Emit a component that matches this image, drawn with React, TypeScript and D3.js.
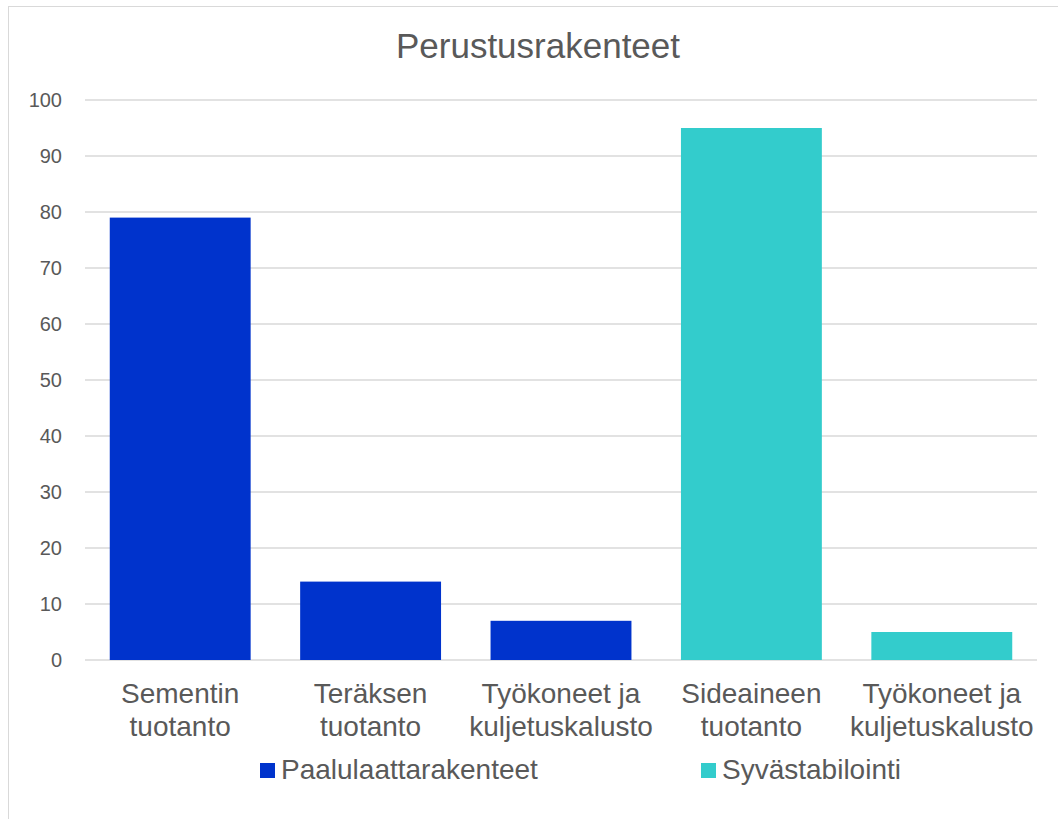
import React from "react";
import * as d3 from "d3";

const categories = [
  ["Sementin", "tuotanto"],
  ["Teräksen", "tuotanto"],
  ["Työkoneet ja", "kuljetuskalusto"],
  ["Sideaineen", "tuotanto"],
  ["Työkoneet ja", "kuljetuskalusto"],
];
const values = [79, 14, 7, 95, 5];
const seriesOf = [0, 0, 0, 1, 1];
const seriesNames = ["Paalulaattarakenteet", "Syvästabilointi"];
const seriesColors = ["#0033CC", "#33CCCC"];
const yTicks = [0, 10, 20, 30, 40, 50, 60, 70, 80, 90, 100];
const title = "Perustusrakenteet";

export default function App() {
  const W = 1058, H = 819;
  const left = 85, right = 1037, top = 100, bottom = 660;
  const x = d3.scaleBand<number>().domain(d3.range(values.length)).range([left, right]).paddingInner(0.26).paddingOuter(0.13);
  const y = d3.scaleLinear().domain([0, 100]).range([bottom, top]);
  const font = "'Liberation Sans', Arial, sans-serif";
  const textColor = "#595959";
  return (
    <svg width={W} height={H} style={{ position: "absolute", left: 0, top: 0 }} fontFamily={font}>
      <rect x={0} y={0} width={W} height={H} fill="#fff" />
      <rect x={8.5} y={6.5} width={W + 10} height={H + 10} fill="none" stroke="#D9D9D9" strokeWidth={1} />
      <text x={538} y={58} textAnchor="middle" fontSize={35} fill={textColor}>{title}</text>
      {yTicks.map((t) => (
        <g key={t}>
          <line x1={left} x2={right} y1={y(t)} y2={y(t)} stroke="#D9D9D9" strokeWidth={1.3} />
          <text x={62} y={y(t) + 7} textAnchor="end" fontSize={20} fill={textColor}>{t}</text>
        </g>
      ))}
      {values.map((v, i) => (
        <rect key={i} x={x(i)} y={y(v)} width={x.bandwidth()} height={y(0) - y(v)} fill={seriesColors[seriesOf[i]]} />
      ))}
      {categories.map((lines, i) => (
        <text key={i} textAnchor="middle" fontSize={28} fill={textColor}>
          {lines.map((l, j) => (
            <tspan key={j} x={(x(i) as number) + x.bandwidth() / 2} y={703 + j * 33}>{l}</tspan>
          ))}
        </text>
      ))}
      {seriesNames.map((s, i) => {
        const lx = [260, 701][i];
        return (
          <g key={s}>
            <rect x={lx} y={763} width={15} height={15} fill={seriesColors[i]} />
            <text x={lx + 21} y={779} fontSize={28} fill={textColor}>{s}</text>
          </g>
        );
      })}
    </svg>
  );
}
